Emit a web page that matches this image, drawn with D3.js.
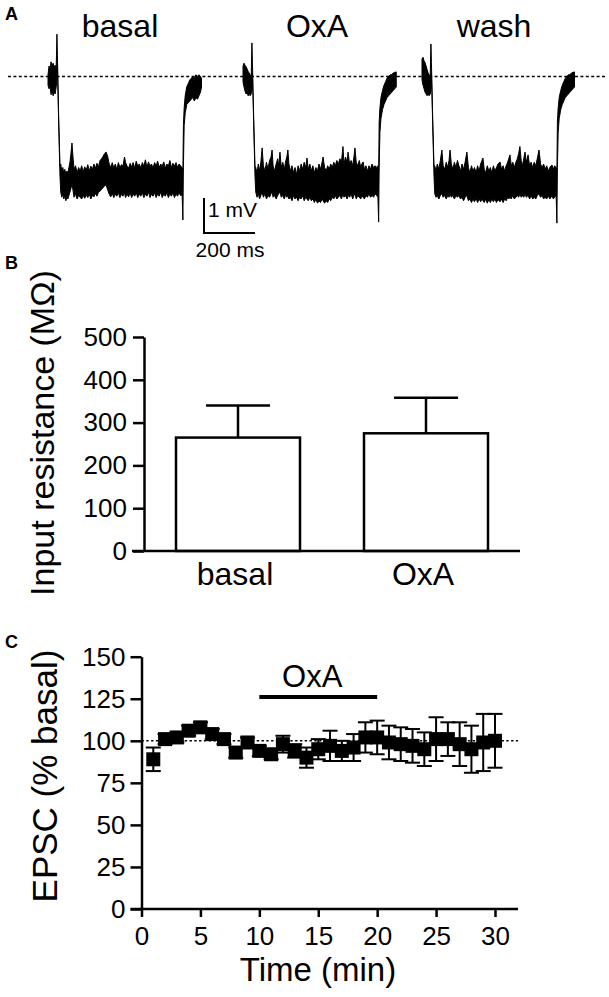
<!DOCTYPE html>
<html><head><meta charset="utf-8">
<script src="https://cdn.jsdelivr.net/npm/d3@7"></script>
<style>
body{margin:0;background:#fff}
svg{display:block}
text{font-family:"Liberation Sans",Arial,Helvetica,sans-serif;fill:#000}
</style></head>
<body><svg id="c" width="609" height="997"></svg>
<script>
// ---------- DATA ----------
// Panel A: traces [time ms, upper envelope mV, lower envelope mV] relative to baseline
const traceLabels = ["basal", "OxA", "wash"];
const basalTrace = [
[0,0.05,-0.25],[4,0.30,-0.35],[8,0.22,-0.30],[12,0.42,-0.52],[16,0.30,-0.40],[20,0.38,-0.55],[24,0.28,-0.45],[28,0.32,-0.50],[32,0.20,-0.30],
[35,1.21,-0.10],[37,0.60,0.30],[42,-1.20,-1.40],[47,-2.55,-2.85],
[50,-2.50,-3.30],[54,-2.70,-3.45],[58,-2.60,-3.35],[62,-2.75,-3.50],[66,-2.65,-3.40],[70,-2.80,-3.55],[74,-2.70,-3.45],[78,-2.75,-3.50],[82,-2.60,-3.40],[86,-2.45,-3.30],[90,-2.20,-3.20],[94,-1.90,-3.05],[98,-2.30,-3.25],[102,-2.65,-3.45],[108,-2.55,-3.35],[114,-2.75,-3.50],[120,-2.60,-3.40],[126,-2.70,-3.45],[132,-2.55,-3.50],[138,-2.72,-3.40],[144,-2.58,-3.48],[150,-2.68,-3.38],[156,-2.52,-3.46],[162,-2.70,-3.36],[168,-2.56,-3.50],[174,-2.66,-3.40],[180,-2.50,-3.44],[186,-2.62,-3.34],[192,-2.48,-3.42],[198,-2.58,-3.30],[204,-2.40,-3.28],[210,-2.35,-3.22],[216,-2.28,-3.18],[222,-2.20,-3.12],[228,-2.16,-3.10],[234,-2.28,-3.24],[240,-2.50,-3.36],[246,-2.60,-3.44],[252,-2.46,-3.34],[258,-2.62,-3.46],[264,-2.50,-3.36],[270,-2.66,-3.42],[276,-2.46,-3.32],[282,-2.60,-3.46],[288,-2.52,-3.36],[294,-2.56,-3.42],[300,-2.30,-3.32],[304,-2.45,-3.46],[310,-2.56,-3.36],[316,-2.62,-3.44],[322,-2.48,-3.32],[328,-2.58,-3.46],[334,-2.46,-3.36],[340,-2.62,-3.42],[346,-2.42,-3.32],[352,-2.56,-3.46],[358,-2.50,-3.36],[364,-2.62,-3.42],[370,-2.46,-3.32],[376,-2.56,-3.46],[382,-2.38,-3.36],[388,-2.60,-3.42],[394,-2.44,-3.30],[400,-2.56,-3.46],[406,-2.50,-3.36],[412,-2.62,-3.42],[418,-2.46,-3.32],[424,-2.56,-3.46],[430,-2.42,-3.36],[436,-2.60,-3.42],[442,-2.50,-3.30],[448,-2.56,-3.46],[454,-2.44,-3.36],[460,-2.62,-3.42],[466,-2.50,-3.32],[472,-2.56,-3.46],[478,-2.40,-3.36],[484,-2.60,-3.42],[490,-2.48,-3.32],[496,-2.56,-3.46],[502,-2.46,-3.36],[508,-2.60,-3.42],[514,-2.50,-3.32],[520,-2.56,-3.40],[526,-2.60,-3.38],
[529,-2.70,-4.10],[531,-1.40,-2.60],[534,-0.90,-1.40],[538,-0.55,-1.05],[544,-0.30,-0.80],[550,-0.20,-0.75],[556,-0.10,-0.70],[562,-0.05,-0.65],[568,0.00,-0.60],[574,-0.05,-0.70],[580,0.05,-0.60],[586,0.00,-0.65],[592,0.05,-0.55],[598,0.00,-0.45],[602,-0.05,-0.30]
];
const oxaTrace = [
[0,0.30,-0.15],[4,0.38,-0.30],[8,0.32,-0.42],[12,0.28,-0.50],[16,0.22,-0.45],[20,0.15,-0.55],[24,0.10,-0.50],[28,0.05,-0.55],[32,-0.05,-0.50],
[35,0.96,-0.40],[37,0.40,0.10],[42,-1.20,-1.40],[47,-2.55,-2.85],
[50,-2.60,-3.30],[55,-2.75,-3.45],[60,-2.50,-3.35],[65,-2.70,-3.50],[70,-2.45,-3.40],[75,-2.04,-3.30],[80,-2.55,-3.45],[86,-2.70,-3.35],[92,-2.45,-3.50],[98,-2.65,-3.40],[104,-2.40,-3.45],[110,-2.30,-3.35],[114,-2.10,-3.30],[118,-2.55,-3.45],[124,-2.70,-3.40],[130,-2.50,-3.50],[136,-2.35,-3.40],[140,-2.55,-3.35],[145,-2.16,-3.30],[150,-2.60,-3.45],[156,-2.45,-3.40],[162,-2.65,-3.50],[168,-2.40,-3.35],[172,-2.30,-3.45],[176,-2.10,-3.40],[180,-2.50,-3.50],[186,-2.70,-3.45],[192,-2.55,-3.55],[198,-2.75,-3.40],[204,-2.60,-3.50],[210,-2.80,-3.45],[216,-2.55,-3.55],[222,-2.70,-3.45],[228,-2.50,-3.50],[234,-2.65,-3.40],[240,-2.45,-3.55],[246,-2.60,-3.45],[251,-2.33,-3.50],[256,-2.65,-3.55],[262,-2.50,-3.45],[268,-2.70,-3.55],[274,-2.55,-3.50],[280,-2.75,-3.60],[286,-2.60,-3.50],[292,-2.70,-3.62],[298,-2.50,-3.55],[304,-2.65,-3.60],[310,-2.45,-3.50],[314,-2.30,-3.55],[320,-2.60,-3.62],[326,-2.70,-3.55],[332,-2.55,-3.60],[338,-2.65,-3.50],[344,-2.50,-3.55],[350,-2.60,-3.45],[356,-2.45,-3.50],[362,-2.55,-3.40],[368,-2.40,-3.50],[374,-2.50,-3.45],[380,-2.35,-3.40],[386,-2.45,-3.50],[392,-2.00,-3.35],[396,-2.50,-3.45],[402,-2.30,-3.40],[408,-2.45,-3.50],[412,-2.16,-3.40],[418,-2.50,-3.45],[424,-2.40,-3.35],[430,-2.55,-3.50],[435,-2.30,-3.40],[439,-2.04,-3.35],[444,-2.45,-3.50],[450,-2.55,-3.40],[456,-2.40,-3.45],[462,-2.60,-3.50],[466,-2.50,-3.40],[471,-2.44,-3.45],[476,-2.65,-3.50],[482,-2.55,-3.40],[488,-2.70,-3.45],[494,-2.55,-3.35],[500,-2.65,-3.45],[506,-2.50,-3.40],[512,-2.60,-3.45],[518,-2.55,-3.35],[524,-2.60,-3.40],[529,-2.55,-3.45],
[532,-2.70,-4.16],[534,-1.30,-2.60],[537,-0.90,-1.60],[541,-0.60,-1.20],[547,-0.40,-0.95],[553,-0.25,-0.80],[559,-0.15,-0.70],[565,-0.05,-0.60],[571,0.00,-0.55],[577,0.05,-0.50],[583,0.05,-0.45],[589,0.10,-0.40],[595,0.12,-0.35],[601,0.13,-0.30]
];
const washTrace = [
[0,0.50,-0.10],[4,0.55,-0.25],[8,0.45,-0.35],[12,0.40,-0.45],[16,0.30,-0.50],[20,0.20,-0.55],[24,0.10,-0.50],[28,0.05,-0.55],[32,-0.05,-0.50],
[35,0.93,-0.40],[37,0.40,0.10],[42,-1.20,-1.40],[47,-2.55,-2.85],
[50,-2.55,-3.35],[55,-2.70,-3.45],[60,-2.50,-3.40],[66,-2.65,-3.50],[72,-2.40,-3.40],[78,-2.10,-3.35],[83,-2.55,-3.45],[89,-2.65,-3.40],[95,-2.45,-3.50],[101,-2.60,-3.40],[106,-2.40,-3.45],[110,-2.10,-3.35],[115,-2.50,-3.45],[121,-2.65,-3.40],[127,-2.45,-3.50],[133,-2.60,-3.40],[139,-2.40,-3.45],[145,-2.55,-3.40],[151,-2.70,-3.50],[157,-2.50,-3.45],[163,-2.65,-3.55],[169,-2.45,-3.45],[176,-2.16,-3.40],[182,-2.60,-3.55],[188,-2.75,-3.50],[194,-2.55,-3.60],[200,-2.70,-3.50],[206,-2.60,-3.58],[212,-2.75,-3.48],[218,-2.55,-3.60],[224,-2.70,-3.50],[230,-2.50,-3.58],[235,-2.40,-3.50],[239,-2.33,-3.55],[244,-2.65,-3.60],[250,-2.75,-3.50],[256,-2.55,-3.62],[262,-2.70,-3.52],[268,-2.60,-3.60],[274,-2.75,-3.50],[280,-2.55,-3.58],[286,-2.70,-3.50],[292,-2.60,-3.60],[298,-2.50,-3.52],[306,-2.44,-3.58],[312,-2.65,-3.50],[318,-2.55,-3.60],[324,-2.70,-3.50],[330,-2.55,-3.55],[336,-2.45,-3.45],[340,-2.35,-3.50],[345,-2.24,-3.45],[350,-2.55,-3.50],[356,-2.45,-3.40],[362,-2.60,-3.50],[368,-2.45,-3.45],[374,-2.35,-3.40],[379,-2.20,-3.45],[384,-2.00,-3.35],[389,-2.40,-3.45],[394,-2.55,-3.40],[399,-2.35,-3.45],[404,-2.16,-3.35],[409,-2.45,-3.45],[416,-2.24,-3.40],[422,-2.55,-3.50],[428,-2.45,-3.40],[434,-2.60,-3.50],[440,-2.45,-3.45],[446,-2.55,-3.50],[452,-2.35,-3.40],[459,-2.10,-3.35],[465,-2.50,-3.45],[471,-2.60,-3.40],[477,-2.50,-3.50],[483,-2.65,-3.45],[489,-2.55,-3.50],[495,-2.70,-3.40],[501,-2.60,-3.50],[506,-2.55,-3.45],[510,-2.53,-3.40],[515,-2.65,-3.50],[520,-2.55,-3.45],[526,-2.60,-3.40],
[529,-2.70,-4.19],[531,-1.30,-2.60],[534,-0.90,-1.60],[538,-0.60,-1.20],[544,-0.40,-0.95],[550,-0.25,-0.80],[556,-0.15,-0.70],[562,-0.05,-0.60],[568,0.00,-0.55],[574,0.05,-0.50],[580,0.05,-0.45],[586,0.10,-0.40],[592,0.12,-0.35],[598,0.13,-0.30]
];
const scaleBarMs = 200, scaleBarMv = 1;

// Panel B
const bCategories = ["basal", "OxA"];
const bMeans = [265, 275];
const bErrors = [75, 83];
const bTicks = [0, 100, 200, 300, 400, 500];

// Panel C
const cTime = [1,2,3,4,5,6,7,8,9,10,11,12,13,14,15,16,17,18,19,20,21,22,23,24,25,26,27,28,29,30];
const cEpsc = [89,101,102,106,108,104,101,93,99,94,92,98,94,90,95,97,94,96,102,102,99,98,97,95,101,101,98,95,99,100];
const cSem  = [7,3,3,3,3,3,3,3,3,3,3,5,4,6,6,9,6,8,9,10,10,10,10,10,13,10,13,14,17,16];
const cYTicks = [0,25,50,75,100,125,150];
const cXTicks = [0,5,10,15,20,25,30];
const drugWindow = [10, 20];
const drugLevel = 126;

// ---------- DRAW ----------
const svg = d3.select("#c");
const FONT = '"Liberation Sans",Arial,Helvetica,sans-serif';

function txt(x, y, s, size, anchor, opts = {}) {
  const t = svg.append("text").attr("x", x).attr("y", y).text(s)
    .style("font-size", size + "px").attr("text-anchor", anchor || "start");
  if (opts.bold) t.style("font-weight", "bold");
  if (opts.rot) t.attr("transform", `rotate(-90,${x},${y})`);
  return t;
}

// Panel labels
txt(5, 20, "A", 18, "start", {bold: true});
txt(5, 269, "B", 18, "start", {bold: true});
txt(5, 648, "C", 18, "start", {bold: true});

// ----- Panel A -----
const msToPx = d3.scaleLinear().domain([0, 200]).range([0, 51]);
const yA = d3.scaleLinear().domain([0, -1]).range([76.5, 111.5]);
const traces = [basalTrace, oxaTrace, washTrace];
const traceX0 = [48, 243, 422];
const labelX = [120, 317, 494];

svg.append("line").attr("x1", 8).attr("x2", 607).attr("y1", yA(0)).attr("y2", yA(0))
  .attr("stroke", "#000").attr("stroke-width", 1.6).attr("stroke-dasharray", "3,2.4");

traces.forEach((tr, i) => {
  const x0 = traceX0[i];
  const area = d3.area().x(d => x0 + msToPx(d[0])).y0(d => yA(d[2])).y1(d => yA(d[1]));
  svg.append("path").attr("d", area(tr)).attr("fill", "#000")
    .attr("stroke", "#000").attr("stroke-width", 1).attr("stroke-linejoin", "round");
  txt(labelX[i], 37, traceLabels[i], 32, "middle");
});

// scale bar
const sbX = 204, sbY = 233;
svg.append("path")
  .attr("d", `M${sbX},${sbY - (yA(-scaleBarMv) - yA(0))}V${sbY}H${sbX + msToPx(scaleBarMs)}`)
  .attr("fill", "none").attr("stroke", "#000").attr("stroke-width", 2);
txt(208, 217, "1 mV", 21, "start");
txt(230, 257, "200 ms", 21, "middle");

// ----- Panel B -----
const yB = d3.scaleLinear().domain([0, 500]).range([551, 337]);
const xB = d3.scalePoint().domain(bCategories).range([144, 520]).padding(0.5);
const barW = 124, capW = 64;

function styleAxis(g, fs) {
  g.selectAll("path.domain").attr("stroke", "#000").attr("stroke-width", 2.5);
  g.selectAll(".tick line").attr("stroke", "#000").attr("stroke-width", 2.5);
  g.selectAll(".tick text").style("font-size", fs + "px").style("font-family", FONT).attr("fill", "#000");
}

const gB = svg.append("g");
bCategories.forEach((c, i) => {
  const cx = xB(c);
  gB.append("line").attr("x1", cx).attr("x2", cx).attr("y1", yB(bMeans[i])).attr("y2", yB(bMeans[i] + bErrors[i]))
    .attr("stroke", "#000").attr("stroke-width", 2.5);
  gB.append("line").attr("x1", cx - capW / 2).attr("x2", cx + capW / 2)
    .attr("y1", yB(bMeans[i] + bErrors[i])).attr("y2", yB(bMeans[i] + bErrors[i]))
    .attr("stroke", "#000").attr("stroke-width", 2.5);
});
gB.selectAll("rect").data(bCategories).join("rect")
  .attr("x", d => xB(d) - barW / 2).attr("width", barW)
  .attr("y", (d, i) => yB(bMeans[i])).attr("height", (d, i) => yB(0) - yB(bMeans[i]))
  .attr("fill", "#fff").attr("stroke", "#000").attr("stroke-width", 2.5);

const axB = svg.append("g").attr("transform", "translate(144,0)")
  .call(d3.axisLeft(yB).tickValues(bTicks).tickSize(11).tickSizeOuter(0).tickPadding(6));
styleAxis(axB, 26);
svg.append("line").attr("x1", 132).attr("x2", 520).attr("y1", yB(0)).attr("y2", yB(0))
  .attr("stroke", "#000").attr("stroke-width", 2.5);
bCategories.forEach(c => txt(xB(c) - 3, 585, c, 32, "middle"));
txt(54, 433, "Input resistance (M\u03A9)", 34, "middle", {rot: true});

// ----- Panel C -----
const yC = d3.scaleLinear().domain([0, 150]).range([909, 656.7]);
const xC = d3.scaleLinear().domain([0, 30]).range([141.5, 495]);

svg.append("line").attr("x1", xC(0)).attr("x2", 518).attr("y1", yC(100)).attr("y2", yC(100))
  .attr("stroke", "#000").attr("stroke-width", 1.6).attr("stroke-dasharray", "2.4,2.4");

const gC = svg.append("g");
const capC = 15, sq = 14;
cTime.forEach((t, i) => {
  const cx = xC(t);
  const lo = yC(cEpsc[i] - cSem[i]), hi = yC(cEpsc[i] + cSem[i]);
  gC.append("line").attr("x1", cx).attr("x2", cx).attr("y1", lo).attr("y2", hi)
    .attr("stroke", "#000").attr("stroke-width", 2);
  [lo, hi].forEach(yy => gC.append("line").attr("x1", cx - capC / 2).attr("x2", cx + capC / 2)
    .attr("y1", yy).attr("y2", yy).attr("stroke", "#000").attr("stroke-width", 2));
});
gC.selectAll("rect").data(cTime).join("rect")
  .attr("x", d => xC(d) - sq / 2).attr("y", (d, i) => yC(cEpsc[i]) - sq / 2)
  .attr("width", sq).attr("height", sq).attr("fill", "#000");

const axCy = svg.append("g").attr("transform", `translate(${xC(0)},0)`)
  .call(d3.axisLeft(yC).tickValues(cYTicks).tickSize(11).tickSizeOuter(0).tickPadding(5));
styleAxis(axCy, 26);
const axCx = svg.append("g").attr("transform", `translate(0,${yC(0)})`)
  .call(d3.axisBottom(xC).tickValues(cXTicks).tickSize(8).tickSizeOuter(0).tickPadding(10));
styleAxis(axCx, 26);
axCx.select("path.domain").remove();
svg.append("line").attr("x1", xC(0) - 11).attr("x2", 518).attr("y1", yC(0)).attr("y2", yC(0))
  .attr("stroke", "#000").attr("stroke-width", 2.5);

svg.append("line").attr("x1", xC(drugWindow[0])).attr("x2", xC(drugWindow[1]))
  .attr("y1", yC(drugLevel)).attr("y2", yC(drugLevel)).attr("stroke", "#000").attr("stroke-width", 4);
txt((xC(drugWindow[0]) + xC(drugWindow[1])) / 2 - 6, 687, "OxA", 31, "middle");

txt(318, 981, "Time (min)", 33, "middle");
txt(57, 776, "EPSC (% basal)", 35, "middle", {rot: true});
</script></body></html>
